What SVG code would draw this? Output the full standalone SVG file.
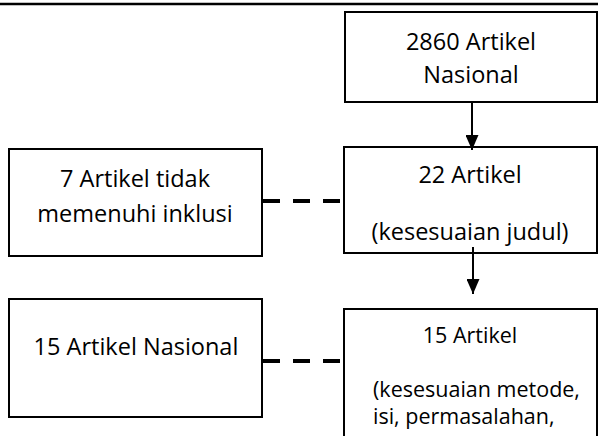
<svg xmlns="http://www.w3.org/2000/svg" width="598" height="436" viewBox="0 0 598 436">
  <style>
    .box { fill: #ffffff; stroke: #000000; stroke-width: 2; }
    .t { font-family: "Open Sans", "Noto Sans", "Liberation Sans", sans-serif; font-size: 23.5px; fill: #000000; text-anchor: middle; }
    .s { font-family: "Open Sans", "Noto Sans", "Liberation Sans", sans-serif; font-size: 21.5px; fill: #000000; }
    .arrow { stroke: #000000; stroke-width: 2; fill: none; marker-end: url(#ah); }
    .dash { stroke: #000000; stroke-width: 4; fill: none; stroke-dasharray: 17 13; }
  </style>
  <defs>
    <marker id="ah" markerUnits="userSpaceOnUse" markerWidth="15" markerHeight="13" refX="15" refY="6.5" orient="auto">
      <path d="M0,0 L15,6.5 L0,13 z" fill="#000000"/>
    </marker>
  </defs>
  <rect width="598" height="436" fill="#ffffff"/>
  <line x1="0" y1="4" x2="598" y2="4" stroke="#000000" stroke-width="2.5"/>

  <g id="node-2860">
    <rect class="box" x="345" y="12" width="252" height="90"/>
    <text class="t" x="471" y="50">2860 Artikel</text>
    <text class="t" x="471" y="83">Nasional</text>
  </g>
  <g id="node-22">
    <rect class="box" x="344" y="147" width="253" height="106"/>
    <text class="t" x="470" y="183">22 Artikel</text>
    <text class="t" x="470" y="240">(kesesuaian judul)</text>
  </g>
  <g id="node-7">
    <rect class="box" x="9" y="149" width="253" height="107"/>
    <text class="t" x="135" y="187">7 Artikel tidak</text>
    <text class="t" x="135" y="222">memenuhi inklusi</text>
  </g>
  <g id="node-15nas">
    <rect class="box" x="9" y="299" width="253" height="118"/>
    <text class="t" x="136" y="355">15 Artikel Nasional</text>
  </g>
  <g id="node-15">
    <rect class="box" x="344" y="309" width="253" height="140"/>
    <text class="s" x="470" y="343" text-anchor="middle" font-size="21">15 Artikel</text>
    <text class="s" x="373" y="397">(kesesuaian metode,</text>
    <text class="s" x="373" y="424">isi, permasalahan,</text>
  </g>

  <g id="connectors">
    <line class="arrow" x1="472" y1="102" x2="472" y2="150"/>
    <line class="arrow" x1="473" y1="247" x2="473" y2="294"/>
    <line class="dash" x1="263" y1="201" x2="343" y2="201"/>
    <line class="dash" x1="263" y1="361" x2="343" y2="361"/>
  </g>
</svg>
